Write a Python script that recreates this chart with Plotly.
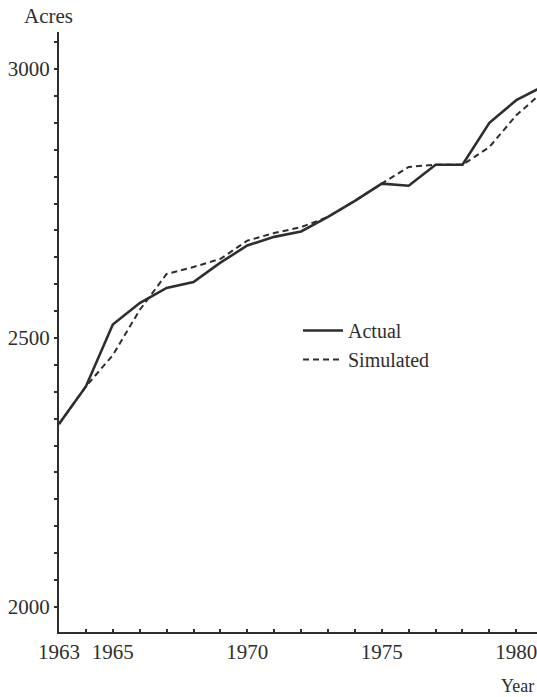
import plotly.graph_objects as go

years = list(range(1963, 1982))
actual = [2340, 2410, 2525, 2565, 2593, 2604, 2640, 2672, 2688, 2698, 2725,
          2755, 2787, 2783, 2822, 2822, 2900, 2942, 2968]
simulated = [2340, 2410, 2468, 2552, 2619, 2632, 2647, 2681, 2695, 2706, 2725,
             2755, 2787, 2818, 2822, 2822, 2855, 2914, 2958]

x_ticks = [1963, 1965, 1970, 1975, 1980]
y_ticks = [2000, 2500, 3000]

INK = "#2e2e2e"
FONT = "Liberation Serif"

fig = go.Figure()
fig.add_trace(go.Scatter(x=years, y=actual, mode="lines", name="Actual",
                         line=dict(color=INK, width=2.6)))
fig.add_trace(go.Scatter(x=years, y=simulated, mode="lines", name="Simulated",
                         line=dict(color=INK, width=2, dash="6px,4px")))

fig.update_layout(
    width=537, height=697,
    margin=dict(l=59, r=0, t=32, b=65),
    paper_bgcolor="white", plot_bgcolor="white",
    font=dict(family=FONT, size=21, color=INK),
    showlegend=True,
    legend=dict(x=0.5, y=0.535, xanchor="left", yanchor="top",
                bgcolor="rgba(0,0,0,0)", font=dict(size=20, color=INK),
                tracegroupgap=0, itemwidth=40),
    xaxis=dict(range=[1963, 1980.77], tickvals=x_ticks,
               ticktext=[str(v) for v in x_ticks],
               ticklabeloverflow="allow",
               showgrid=False, zeroline=False, showline=True,
               linecolor=INK, linewidth=2, ticks="inside", ticklen=3,
               tickcolor=INK, tickwidth=2,
               minor=dict(dtick=1, ticks="inside", ticklen=3,
                          tickcolor=INK, tickwidth=2, showgrid=False)),
    yaxis=dict(range=[1953.5, 3068.8], tickvals=y_ticks,
               ticktext=[str(v) for v in y_ticks],
               showgrid=False, zeroline=False, showline=True,
               linecolor=INK, linewidth=2, ticks="outside", ticklen=3,
               tickcolor=INK, tickwidth=2,
               minor=dict(dtick=50, tick0=2000, ticks="outside", ticklen=3,
                          tickcolor=INK, tickwidth=2, showgrid=False)),
    annotations=[
        dict(text="Acres", xref="paper", yref="paper", x=-0.077, y=1.027,
             xanchor="left", yanchor="middle", showarrow=False,
             font=dict(size=21, color=INK, family=FONT)),
        dict(text="Year", xref="paper", yref="paper", x=0.998, y=-0.09,
             xanchor="right", yanchor="middle", showarrow=False,
             font=dict(size=18, color=INK, family=FONT)),
    ],
)

fig.write_html("out.html", config={"displayModeBar": False},
               post_script="document.body.style.margin='0';document.body.style.overflow='hidden';")
